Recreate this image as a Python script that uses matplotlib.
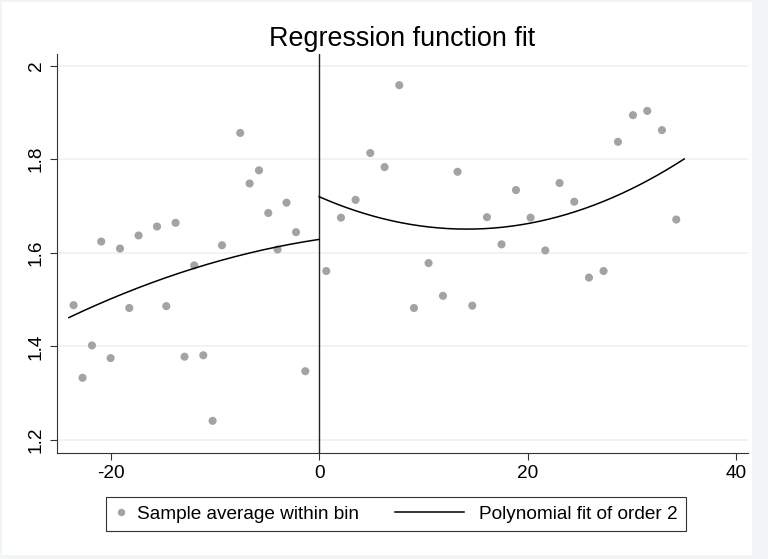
import numpy as np
import matplotlib
matplotlib.use('Agg')
import matplotlib.pyplot as plt
from matplotlib.lines import Line2D
from matplotlib.patches import Rectangle
from matplotlib.legend_handler import HandlerLine2D

plt.rcParams['font.family'] = ['Liberation Sans', 'DejaVu Sans']
plt.rcParams['axes.unicode_minus'] = False

# bin averages, left of cutoff
x_left = [-23.55, -22.69, -21.79, -20.90, -20.00, -19.10, -18.21, -17.32,
          -15.55, -14.66, -13.77, -12.91, -11.98, -11.11, -10.22, -9.32,
          -7.57, -6.67, -5.77, -4.88, -3.99, -3.13, -2.22, -1.33]
y_left = [1.488, 1.333, 1.402, 1.624, 1.375, 1.609, 1.482, 1.637,
          1.656, 1.486, 1.664, 1.378, 1.573, 1.381, 1.241, 1.616,
          1.856, 1.748, 1.776, 1.685, 1.607, 1.707, 1.644, 1.347]

# bin averages, right of cutoff
x_right = [0.68, 2.09, 3.49, 4.90, 6.27, 7.68, 9.09, 10.49, 11.87, 13.27,
           14.68, 16.09, 17.49, 18.87, 20.27, 21.68, 23.05, 24.46, 25.87,
           27.27, 28.65, 30.09, 31.46, 32.87, 34.24]
y_right = [1.561, 1.675, 1.713, 1.813, 1.783, 1.958, 1.482, 1.578, 1.508,
           1.773, 1.487, 1.676, 1.618, 1.734, 1.675, 1.605, 1.749, 1.709,
           1.547, 1.561, 1.837, 1.894, 1.903, 1.862, 1.671]

# order 2 polynomial fits (highest power first) and their x ranges
fit_left_coef = [-0.000150, 0.00336, 1.6286]
fit_left_range = [-24, 0]
fit_right_coef = [0.000345, -0.00977, 1.7197]
fit_right_range = [0, 35]

x_ticks = [-20, 0, 20, 40]
y_ticks = [1.2, 1.4, 1.6, 1.8, 2.0]
y_tick_labels = ['1.2', '1.4', '1.6', '1.8', '2']


class LongLineHandler(HandlerLine2D):
    # line that sticks out to the left of a short handle box
    def create_artists(self, legend, orig_handle, xdescent, ydescent,
                       width, height, fontsize, trans):
        y = height / 2 - ydescent
        end = -xdescent + width - 2.9
        ln = Line2D([end - 50, end], [y, y], color='black', lw=1.1)
        ln.set_transform(trans)
        return [ln]


fig = plt.figure(figsize=(7.68, 5.59), dpi=100, facecolor='#f2f5f5')
fig.add_artist(Rectangle((2 / 768, 4 / 559), 750 / 768, 553 / 559,
                         transform=fig.transFigure, facecolor='white',
                         edgecolor='none', zorder=0))
ax = fig.add_axes([57 / 768, 1 - 452.7 / 559, 691 / 768, 398.7 / 559])
ax.set_facecolor('white')

ax.scatter(x_left + x_right, y_left + y_right, s=34, color='#a3a3a3',
           edgecolors='none', zorder=3)

xs = np.linspace(fit_left_range[0], fit_left_range[1], 200)
ax.plot(xs, np.polyval(fit_left_coef, xs), color='black', lw=1.1, zorder=4)
xs = np.linspace(fit_right_range[0], fit_right_range[1], 200)
ax.plot(xs, np.polyval(fit_right_coef, xs), color='black', lw=1.1, zorder=4)

ax.axvline(0, color='#222222', lw=1.0, zorder=2)

ax.set_xlim(-25.14, 41.12)
ax.set_ylim(1.1729, 2.0246)
ax.set_xticks(x_ticks)
ax.set_yticks(y_ticks)
ax.set_yticklabels(y_tick_labels, rotation=90, va='center')
ax.yaxis.grid(True, color='#e9f0f1', lw=1.1)
ax.set_axisbelow(True)
for side in ['top', 'right']:
    ax.spines[side].set_visible(False)
for side in ['left', 'bottom']:
    ax.spines[side].set_color('#333333')
    ax.spines[side].set_linewidth(0.8)
ax.tick_params(axis='both', direction='out', length=4.8, width=0.8,
               color='#333333', labelsize=13.7, labelcolor='black')
ax.tick_params(axis='x', pad=3.9)
ax.tick_params(axis='y', pad=4.0)

ax.set_title('Regression function fit', fontsize=19.4, pad=5.5)

h1 = Line2D([], [], ls='none', marker='o', ms=5.3, color='#a3a3a3',
            markeredgewidth=0)
h2 = Line2D([], [], color='black', lw=1.1)
leg = fig.legend([h1, h2], ['Sample average within bin', 'Polynomial fit of order 2'],
                 loc='center', bbox_to_anchor=(396 / 768, 1 - 514 / 559),
                 ncol=2, fontsize=13.7, handlelength=0.6, handletextpad=0.55,
                 columnspacing=5.15, borderpad=0.45, fancybox=False,
                 framealpha=1, edgecolor='#333333',
                 handler_map={h2: LongLineHandler()})
leg.get_frame().set_linewidth(0.8)

plt.savefig('out.png', dpi=100, facecolor=fig.get_facecolor())
